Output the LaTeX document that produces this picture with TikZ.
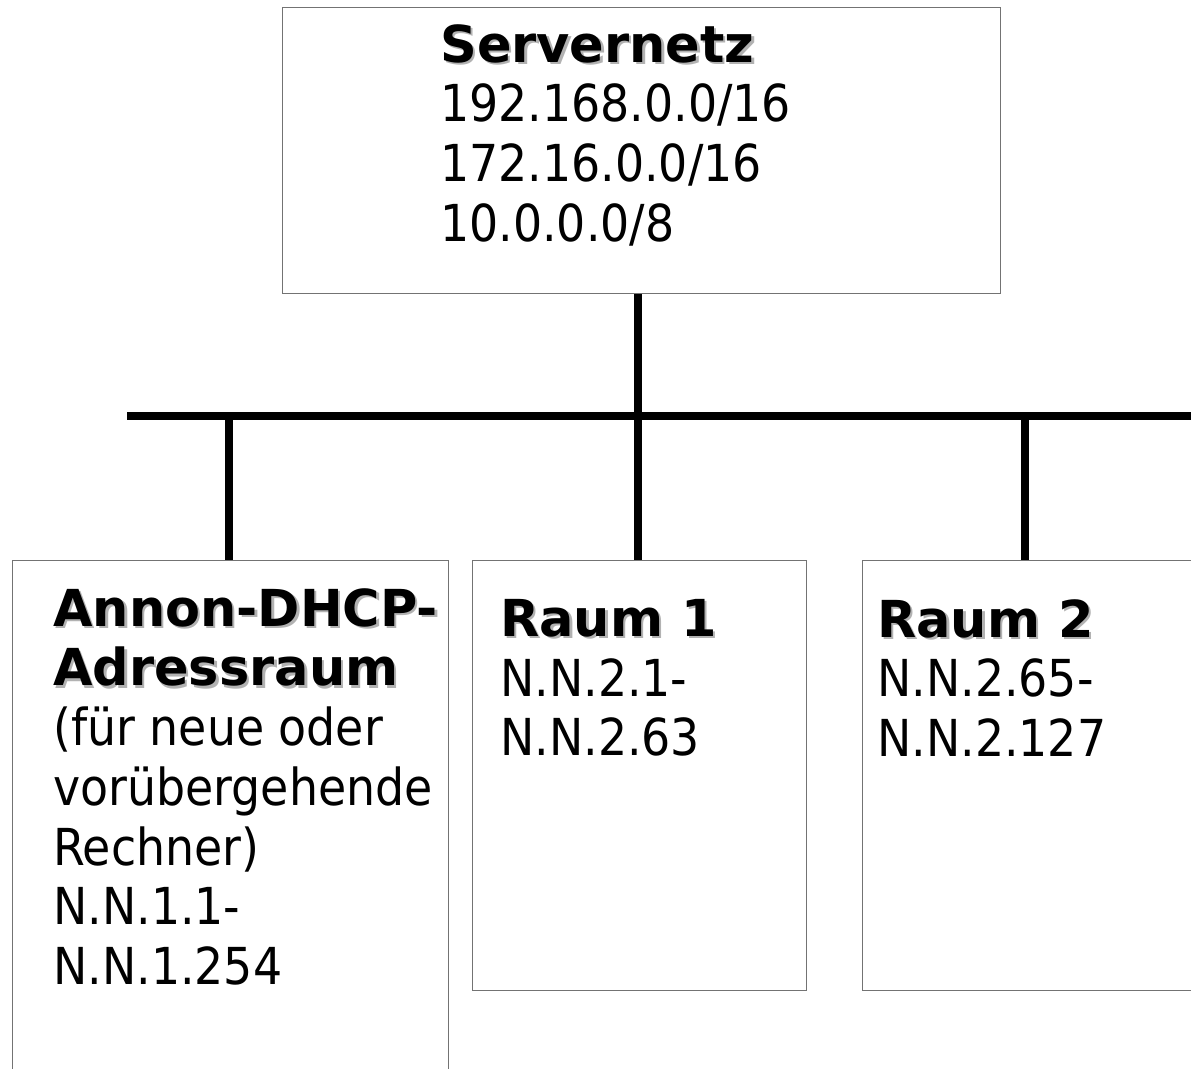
\documentclass[tikz,border=0pt]{standalone}
\usepackage{fontspec}
\setmainfont{DejaVu Sans Condensed}
\newfontfamily\kopffont{DejaVu Sans}

% bold heading with a grey drop shadow
\newcommand{\schatten}[1]{{\kopffont\bfseries\makebox[0pt][l]{\hspace{1.4pt}\raisebox{-1.4pt}{\color{black!30}#1}}#1}}

\tikzset{
  netbox/.style={draw=black!55, line width=0.7pt, anchor=north west, inner sep=0},
  boxtext/.style={anchor=north west, inner sep=0, align=left,
    font=\fontsize{29}{34}\selectfont},
  bus/.style={line width=4.7pt},
}

\begin{document}
\begin{tikzpicture}[x=0.02cm, y=-0.02cm]
    \useasboundingbox (0, 0) rectangle (1191, 1069);

    % Server
    \node[netbox, minimum width=14.36cm, minimum height=5.72cm] (server) at (282, 7) {};
    \node[boxtext] (servertext) at (440, 24)
    {\schatten{Servernetz}\\192.168.0.0/16\\172.16.0.0/16\\10.0.0.0/8};

    % Bus
    \coordinate (busL) at (127, 416);
    \coordinate (busR) at (1191, 416);
    \coordinate (t1) at (229, 416);
    \coordinate (t2) at (638, 416);
    \coordinate (t3) at (1025, 416);

    % Raeume
    \node[netbox, minimum width=8.72cm, minimum height=10.4cm] (dhcp) at (12, 560) {};
    \node[boxtext] (dhcptext) at (53, 588)
    {\schatten{Annon-DHCP-}\\\schatten{Adressraum}\\(für neue oder\\vorübergehende\\Rechner)\\N.N.1.1-\\N.N.1.254};
    \node[netbox, minimum width=6.68cm, minimum height=8.6cm] (raum1) at (472, 560) {};
    \node[boxtext] (raum1text) at (500, 599)
    {\schatten{Raum 1}\\N.N.2.1-\\N.N.2.63};
    \node[netbox, minimum width=6.8cm, minimum height=8.6cm] (raum2) at (862, 560) {};
    \node[boxtext] (raum2text) at (877, 599)
    {\schatten{Raum 2}\\N.N.2.65-\\N.N.2.127};

    % Lines
    \draw[bus] (busL) -- (busR);
    \draw[bus] (server.south -| t2) -- (t2);
    \draw[bus] (t1) -- (t1 |- dhcp.north);
    \draw[bus] (t2) -- (t2 |- raum1.north);
    \draw[bus] (t3) -- (t3 |- raum2.north);

\end{tikzpicture}
\end{document}
